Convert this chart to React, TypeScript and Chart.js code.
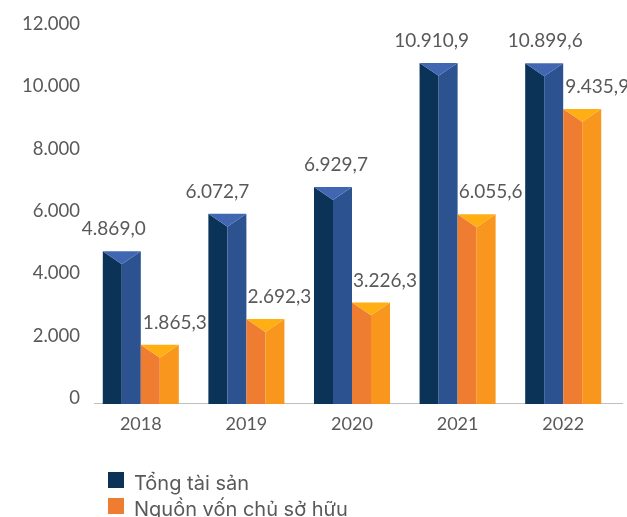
import React, { useEffect, useRef } from "react";
import { Chart, registerables } from "chart.js";

Chart.register(...registerables);

const categories = ["2018", "2019", "2020", "2021", "2022"];
const totalAssets = [4869.0, 6072.7, 6929.7, 10910.9, 10899.6];
const ownerEquity = [1865.3, 2692.3, 3226.3, 6055.6, 9435.9];
const seriesNames = ["Tổng tài sản", "Nguồn vốn chủ sở hữu"];
const yTicks = [0, 2000, 4000, 6000, 8000, 10000, 12000];
const labelShiftX = [
  [-8, -10, 3, -7, 1],
  [15, 14, 14, 14, 15],
];
const legendColors = ["#0b3358", "#ee7d31"];
const faces = [
  { left: "#0b3358", right: "#2c5290", top: "#4267b2" },
  { left: "#ee7d31", right: "#f9961e", top: "#ffae14" },
];

const fmt = (v: number, d: number) => {
  const [i, f] = v.toFixed(d).split(".");
  const g = i.replace(/\B(?=(\d{3})+(?!\d))/g, ".");
  return f ? g + "," + f : g;
};

const pyramidBars = {
  id: "pyramidBars",
  afterDatasetsDraw(chart: any) {
    const { ctx, chartArea } = chart;
    ctx.save();
    ctx.strokeStyle = "#bfbfbf";
    ctx.lineWidth = 1;
    ctx.beginPath();
    ctx.moveTo(chartArea.left + 6, chartArea.bottom + 0.5);
    ctx.lineTo(chartArea.right + 7, chartArea.bottom + 0.5);
    ctx.stroke();
    chart.data.datasets.forEach((ds: any, di: number) => {
      const f = faces[di];
      chart.getDatasetMeta(di).data.forEach((bar: any, i: number) => {
        const l = bar.x - bar.width / 2;
        const r = bar.x + bar.width / 2;
        const t = bar.y;
        const b = bar.base + 1;
        const depth = bar.width * 0.34;
        const fill = (c: string, pts: number[][]) => {
          ctx.fillStyle = c;
          ctx.beginPath();
          pts.forEach((p, k) => (k ? ctx.lineTo(p[0], p[1]) : ctx.moveTo(p[0], p[1])));
          ctx.closePath();
          ctx.fill();
        };
        fill(f.left, [[l, t], [bar.x, t + depth], [bar.x, b], [l, b]]);
        fill(f.right, [[r, t], [bar.x, t + depth], [bar.x, b], [r, b]]);
        fill(f.top, [[l, t], [r, t], [bar.x, t + depth]]);
        ctx.fillStyle = "#595959";
        ctx.font = "19px Lato";
        ctx.textAlign = "center";
        ctx.textBaseline = "middle";
        ctx.fillText(fmt(ds.data[i], 1), bar.x + labelShiftX[di][i], t - 22);
      });
    });
    ctx.restore();
  },
};

export default function App() {
  const ref = useRef<HTMLCanvasElement>(null);
  useEffect(() => {
    const chart = new Chart(ref.current!, {
      type: "bar",
      data: {
        labels: categories,
        datasets: [
          { label: seriesNames[0], data: totalAssets, backgroundColor: "rgba(0,0,0,0)" },
          { label: seriesNames[1], data: ownerEquity, backgroundColor: "rgba(0,0,0,0)" },
        ],
      },
      options: {
        responsive: false,
        animation: false,
        layout: { padding: { top: 29, left: 0, right: 11, bottom: 86 } },
        datasets: { bar: { categoryPercentage: 0.72, barPercentage: 1 } },
        plugins: { legend: { display: false }, tooltip: { enabled: false } },
        scales: {
          x: {
            grid: { display: false, drawTicks: false },
            border: { display: false },
            ticks: { color: "#595959", font: { family: "Lato", size: 18 }, padding: 10 },
            afterFit: (s: any) => {
              s.height = 28;
            },
          },
          y: {
            min: 0,
            max: 12000,
            afterBuildTicks: (s: any) => {
              s.ticks = yTicks.map((value) => ({ value }));
            },
            afterFit: (s: any) => {
              s.width = 88;
            },
            grid: { display: false, drawTicks: false },
            border: { display: false },
            ticks: {
              color: "#595959",
              font: { family: "Lato", size: 18.5 },
              padding: 8,
              labelOffset: -5,
              callback: (v: any) => fmt(Number(v), 0),
            },
          },
        },
      },
      plugins: [pyramidBars],
    } as any);
    return () => chart.destroy();
  }, []);
  return (
    <div style={{ position: "fixed", left: 0, top: 0, width: 627, height: 517, overflow: "hidden", background: "#fff" }}>
      <canvas ref={ref} width={627} height={517} style={{ display: "block" }} />
      {seriesNames.map((name, i) => (
        <div
          key={name}
          style={{ position: "absolute", left: 108, top: 469 + i * 26, height: 28, display: "flex", alignItems: "center", fontFamily: "Inter", fontSize: 20, color: "#595959", whiteSpace: "nowrap" }}
        >
          <span style={{ width: 16, height: 16, marginRight: 10, marginTop: -7, background: legendColors[i], display: "inline-block" }} />
          {name}
        </div>
      ))}
    </div>
  );
}
